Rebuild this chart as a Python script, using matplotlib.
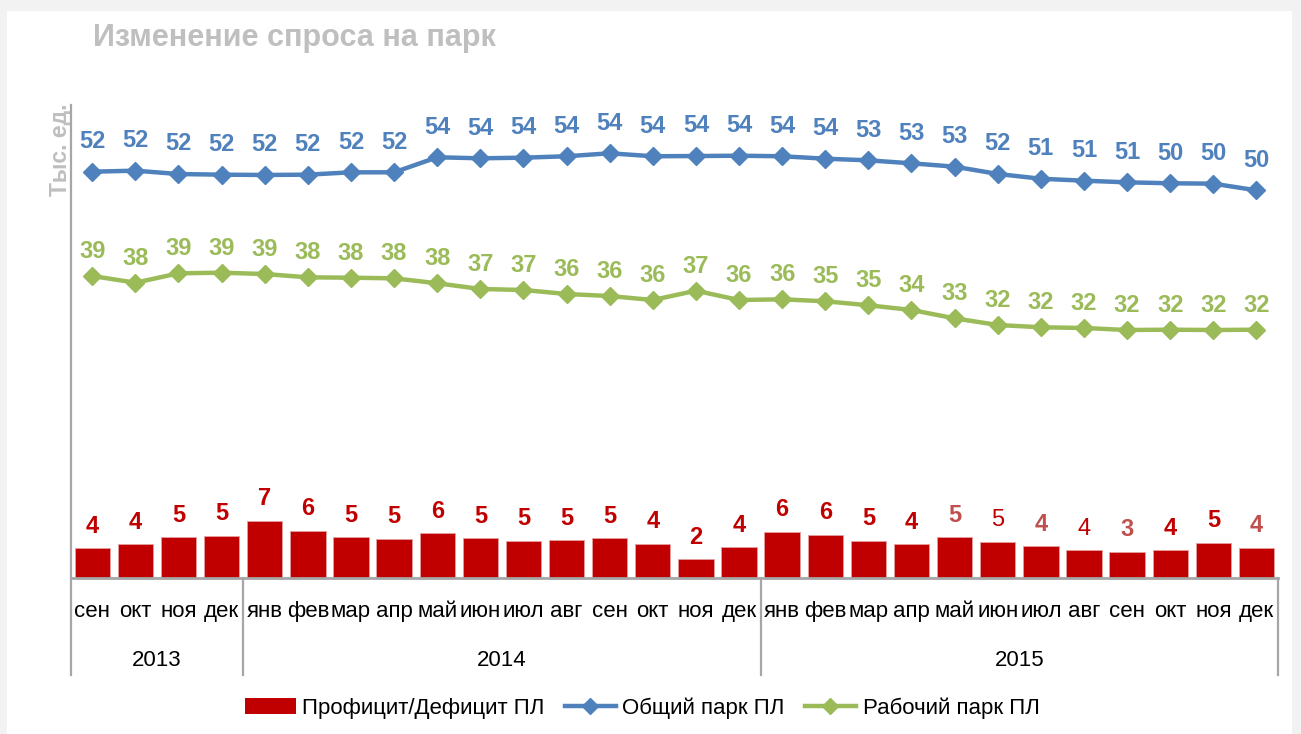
import matplotlib
matplotlib.use("Agg")
import matplotlib.pyplot as plt
from matplotlib.patches import Rectangle
from matplotlib.lines import Line2D
import matplotlib.transforms as mtransforms

plt.rcParams['font.family'] = ['Liberation Sans', 'DejaVu Sans']

months = ["сен", "окт", "ноя", "дек",
          "янв", "фев", "мар", "апр", "май", "июн", "июл", "авг", "сен", "окт", "ноя", "дек",
          "янв", "фев", "мар", "апр", "май", "июн", "июл", "авг", "сен", "окт", "ноя", "дек"]
years = ["2013", "2014", "2015"]
year_counts = [4, 12, 12]

surplus = [3.83, 4.38, 5.27, 5.44,
           7.36, 6.08, 5.24, 5.06, 5.79, 5.15, 4.80, 4.85, 5.15, 4.42, 2.43, 4.00,
           5.95, 5.57, 4.80, 4.38, 5.24, 4.68, 4.09, 3.61, 3.40, 3.58, 4.55, 3.91]
total = [51.93, 52.06, 51.63, 51.55,
         51.51, 51.55, 51.85, 51.85, 53.77, 53.64, 53.72, 53.90, 54.28, 53.90, 53.93, 53.97,
         53.90, 53.59, 53.38, 53.00, 52.57, 51.64, 51.03, 50.78, 50.57, 50.45, 50.40, 49.55]
working = [38.61, 37.75, 38.95, 39.03,
           38.86, 38.44, 38.39, 38.31, 37.68, 36.95, 36.82, 36.31, 36.05, 35.54, 36.73, 35.54,
           35.63, 35.38, 34.87, 34.27, 33.20, 32.35, 32.06, 31.97, 31.71, 31.75, 31.71, 31.75]

series_names = ["Профицит/Дефицит ПЛ", "Общий парк ПЛ", "Рабочий парк ПЛ"]
title = "Изменение спроса на парк"
ylabel = "Тыс. ед."

RED = "#C00000"
LRED = "#C0504D"
BLUE = "#4F81BD"
GREEN = "#9BBB59"
GRID = "#A6A6A6"

# style of individual bar labels (a few are rendered lighter in the original)
bar_label_colors = [RED] * 20 + [LRED, RED, LRED, RED, LRED, RED, RED, LRED]
bar_label_weights = ["bold"] * 21 + ["normal", "bold", "normal", "bold", "bold", "bold", "bold"]

W, H = 1301, 734
fig = plt.figure(figsize=(W / 100, H / 100), dpi=100)
fig.patch.set_facecolor("#F2F2F2")
fig.patches.append(Rectangle((7 / W, 0), (1292 - 7) / W, 1 - 11 / H,
                             transform=fig.transFigure, facecolor="white",
                             edgecolor="none", zorder=-10))

ax_left, ax_right = 70.7, 1278.0
ax_top, ax_bottom = 108.5, 578.3
ax = fig.add_axes([ax_left / W, 1 - ax_bottom / H, (ax_right - ax_left) / W,
                   (ax_bottom - ax_top) / H])
ax.set_zorder(5)
ax.set_facecolor("none")
n = len(months)
x = list(range(n))
ax.set_xlim(-0.5, n - 0.5)
ax.set_ylim(0, 60)
for s in ax.spines.values():
    s.set_visible(False)
ax.set_xticks([])
ax.set_yticks([])

ax.bar(x, surplus, width=0.82, color=RED, edgecolor="#E6A0A0", linewidth=0.6, zorder=2)
ax.plot(x, total, color=BLUE, lw=3.2, marker="D", markersize=9, zorder=3)
ax.plot(x, working, color=GREEN, lw=3.2, marker="D", markersize=9, zorder=3)

for i in x:
    ax.annotate(f"{surplus[i]:.0f}", (i, surplus[i]), xytext=(0, 11), textcoords="offset points",
                ha="center", va="baseline", fontsize=17, fontweight=bar_label_weights[i],
                color=bar_label_colors[i])
    ax.annotate(f"{total[i]:.0f}", (i, total[i]), xytext=(0, 17), textcoords="offset points",
                ha="center", va="baseline", fontsize=17, fontweight="bold", color=BLUE)
    ax.annotate(f"{working[i]:.0f}", (i, working[i]), xytext=(0, 13), textcoords="offset points",
                ha="center", va="baseline", fontsize=17, fontweight="bold", color=GREEN)

trans = mtransforms.blended_transform_factory(ax.transData, ax.transAxes)
axh = ax_bottom - ax_top
y_month = -33 / axh
y_year = -82 / axh
y_sep = -97 / axh

# baseline
ax.plot([-0.5, n - 0.5], [0, 0], transform=trans, color=GRID, lw=2, clip_on=False, zorder=4)
# left axis line
ax.plot([-0.5, -0.5], [1.007, y_sep], transform=trans, color=GRID, lw=1.6, clip_on=False)
# group separators
bounds = [-0.5]
acc = -0.5
for c in year_counts:
    acc += c
    bounds.append(acc)
for b in bounds[1:]:
    ax.plot([b, b], [0, y_sep], transform=trans, color=GRID, lw=1.6, clip_on=False)

for i, m in enumerate(months):
    ax.text(i, y_month, m, transform=trans, ha="center", va="center", fontsize=16, color="black")
for k, yr in enumerate(years):
    ax.text((bounds[k] + bounds[k + 1]) / 2, y_year, yr, transform=trans, ha="center",
            va="center", fontsize=16, color="black")

fig.text(93 / W, 1 - 38 / H, title, ha="left", va="center", fontsize=22, fontweight="bold",
         color="#BFBFBF")
fig.text(60 / W, 1 - 103 / H, ylabel, ha="center", va="top", rotation=90, fontsize=16.5,
         fontweight="bold", color="#BFBFBF")

handles = [Rectangle((0, 0), 1, 1, facecolor=RED, edgecolor="none"),
           Line2D([], [], color=BLUE, lw=3.2, marker="D", markersize=8),
           Line2D([], [], color=GREEN, lw=3.2, marker="D", markersize=8)]
fig.legend(handles, series_names, loc="center", bbox_to_anchor=(642 / W, 1 - 708 / H),
           ncol=3, frameon=False, fontsize=16, handlelength=2.3, handletextpad=0.3,
           columnspacing=0.9)

fig.savefig("out.png", dpi=100, facecolor=fig.get_facecolor())
